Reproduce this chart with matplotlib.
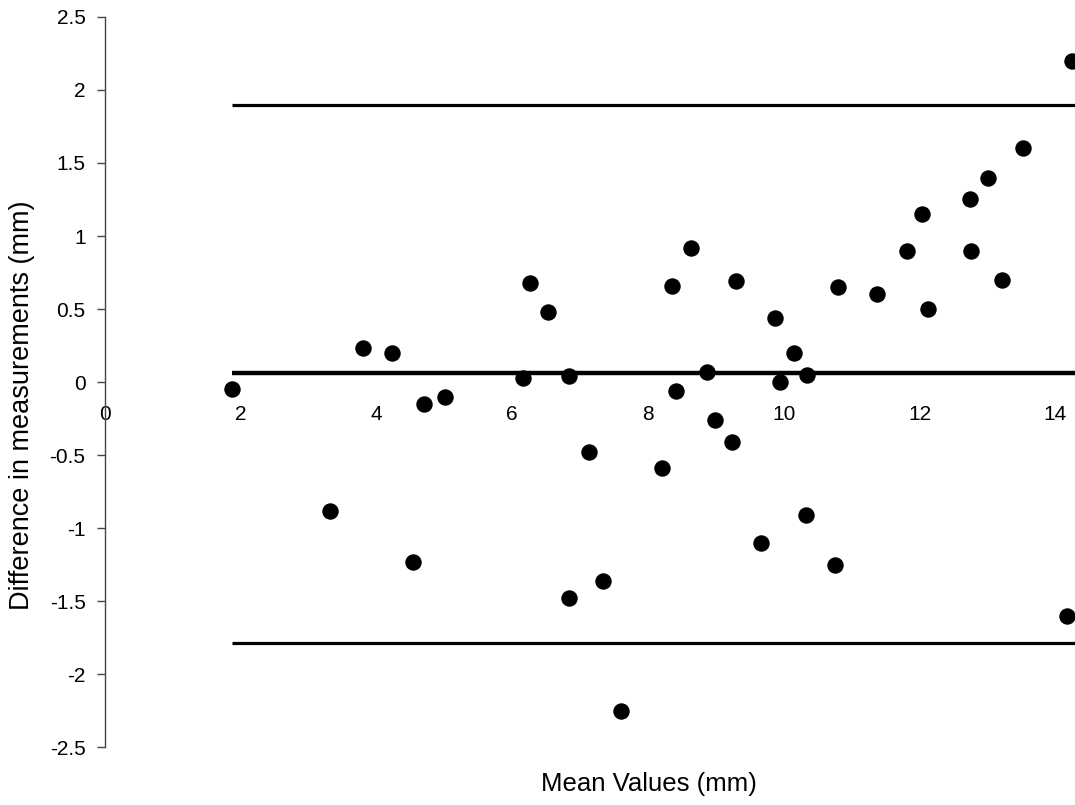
import numpy as np
import matplotlib.pyplot as plt

plt.rcParams['font.family'] = ['Liberation Sans', 'DejaVu Sans']

# Valores (Bland-Altman)
mean_vals = [1.87, 3.31, 3.80, 4.23, 4.54, 4.70, 5.01, 6.16, 6.26, 6.52,
             6.83, 6.83, 7.13, 7.33, 7.60, 8.20, 8.35, 8.41, 8.63, 8.87,
             8.99, 9.23, 9.29, 9.66, 9.87, 9.94, 10.15, 10.32, 10.34, 10.75,
             10.80, 11.37, 11.81, 12.04, 12.12, 12.74, 12.76, 13.01, 13.21, 13.52,
             14.17, 14.25]
diff_vals = [-0.05, -0.88, 0.23, 0.20, -1.23, -0.15, -0.10, 0.03, 0.68, 0.48,
             0.04, -1.48, -0.48, -1.36, -2.25, -0.59, 0.66, -0.06, 0.92, 0.07,
             -0.26, -0.41, 0.69, -1.10, 0.44, 0.00, 0.20, -0.91, 0.05, -1.25,
             0.65, 0.60, 0.90, 1.15, 0.50, 1.25, 0.90, 1.40, 0.70, 1.60,
             -1.60, 2.20]
mean_diff = 0.06
upper_loa = 1.90
lower_loa = -1.79

x_ticks = [0, 2, 4, 6, 8, 10, 12, 14]
y_ticks = [-2.5, -2, -1.5, -1, -0.5, 0, 0.5, 1, 1.5, 2, 2.5]
y_ticklabels = ["-2.5", "-2", "-1.5", "-1", "-0.5", "0", "0.5", "1", "1.5", "2", "2.5"]

XMAX = 14.29

fig = plt.figure(figsize=(10.75, 8.05), dpi=100)
ax = fig.add_axes([0.0977, 0.072, 0.9023, 0.9069])

ax.scatter(mean_vals, diff_vals, s=140, color="black", zorder=3, clip_on=False,
           linewidths=0)

x0 = min(mean_vals)
ax.hlines(mean_diff, x0, XMAX, color="black", linewidth=3.2)
ax.hlines([upper_loa, lower_loa], x0, XMAX, color="black", linewidth=2.3)

ax.set_xlim(0, XMAX)
ax.set_ylim(-2.5, 2.5)

for s in ["top", "right"]:
    ax.spines[s].set_visible(False)
ax.spines["bottom"].set_position(("data", 0))
ax.spines["bottom"].set_visible(False)
ax.spines["left"].set_color("#444444")
ax.spines["left"].set_linewidth(1.0)

ax.set_xticks(x_ticks)
ax.set_xticklabels([str(t) for t in x_ticks])
ax.tick_params(axis="x", length=0, pad=16.5, labelsize=15)
ax.set_yticks(y_ticks)
ax.set_yticklabels(y_ticklabels)
ax.tick_params(axis="y", length=6, width=1, color="#444444", pad=8, labelsize=15)

fig.text(649 / 1075, 1 - 784 / 805, "Mean Values (mm)", fontsize=18.5,
         ha="center", va="center")
fig.text(22 / 1075, 1 - 405 / 805, "Difference in measurements (mm)", fontsize=19.5,
         ha="center", va="center", rotation=90)

fig.savefig("out.png", dpi=100)
